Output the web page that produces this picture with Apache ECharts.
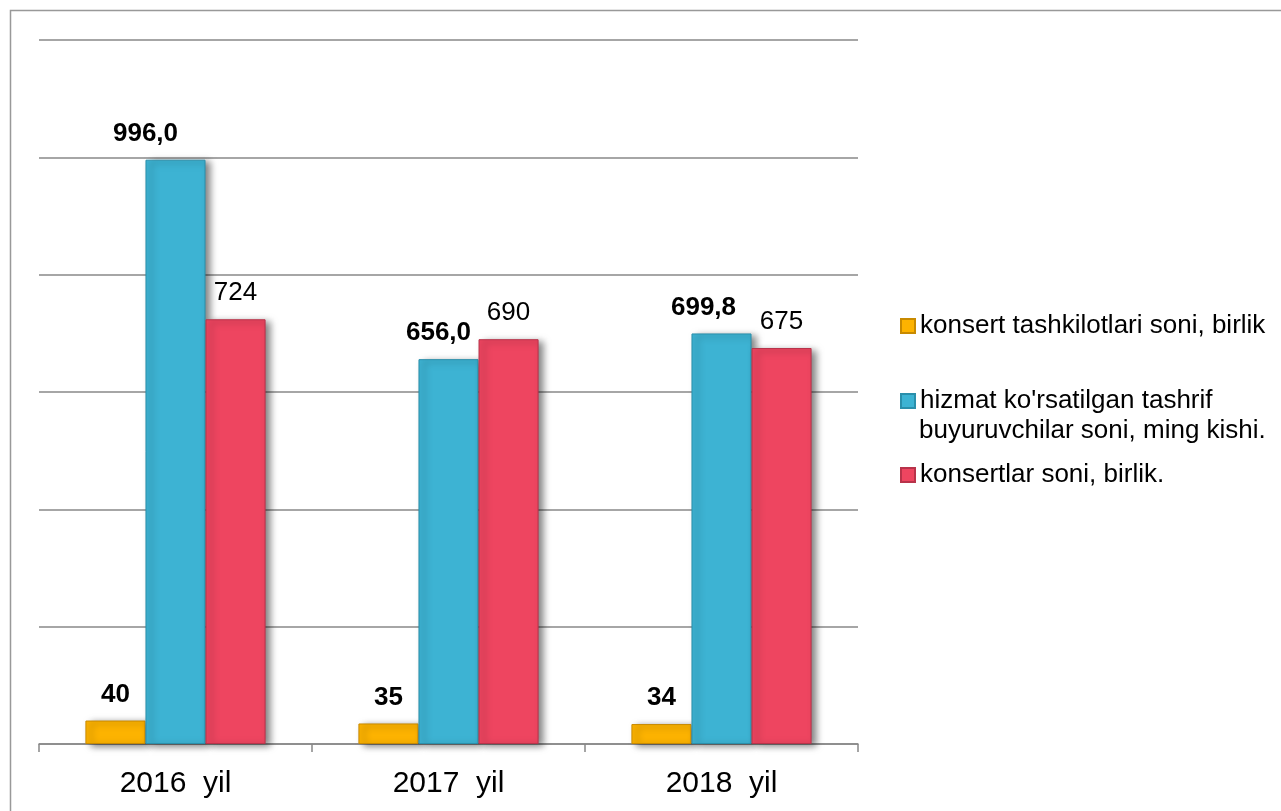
<!DOCTYPE html>
<html><head><meta charset="utf-8">
<script src="https://cdn.jsdelivr.net/npm/echarts@6/dist/echarts.min.js"></script>
<style>html,body{margin:0;padding:0;background:#fff}#c{width:1281px;height:811px}</style>
</head><body><div id="c"></div>
<script>
const categories = ['2016  yil', '2017  yil', '2018  yil'];
const seriesNames = ['konsert tashkilotlari soni, birlik', "hizmat ko'rsatilgan tashrif buyuruvchilar soni, ming kishi.", 'konsertlar soni, birlik.'];
const orgs = [40, 35, 34];
const visitors = [996.0, 656.0, 699.8];
const concerts = [724, 690, 675];

const chart = echarts.init(document.getElementById('c'));
const FONT = 'Liberation Sans';
// horizontal nudges of the blue value labels, as in the reference
const blueLabelShift = [-30, -10, -18];
function mkSeries(name, values, color, border, bold, fmt, shifts) {
  const data = values.map((v, i) => shifts ? { value: v, label: { offset: [shifts[i], 0] } } : v);
  return {
    name, type: 'bar', data, barGap: '0%', barCategoryGap: '34%',
    itemStyle: { color, borderColor: border, borderWidth: 1,
      shadowColor: 'rgba(0,0,0,0.5)', shadowBlur: 7, shadowOffsetX: 5, shadowOffsetY: 2 },
    label: { show: true, position: 'top', distance: 13, color: '#000', fontFamily: FONT,
      fontSize: 26, fontWeight: bold ? 'bold' : 'normal', formatter: fmt }
  };
}
const legendText = { fontFamily: FONT, fontSize: 26, color: '#000', lineHeight: 28 };
chart.setOption({
  animation: false,
  color: ['#FDB300', '#3DB3D3', '#EE4560'],
  graphic: [
    { type: 'rect', shape: { x: 10.5, y: 10.5, width: 1300, height: 900 }, style: { fill: 'none', stroke: '#999', lineWidth: 1.5 } },
    { type: 'text', left: 919, top: 418, style: { text: 'buyuruvchilar soni, ming kishi.', font: '26px "Liberation Sans"', fill: '#000' } }
  ],
  grid: { left: 39, right: 423, top: 40, bottom: 67 },
  legend: [
    { data: [seriesNames[0]], left: 895, top: 307, itemWidth: 14, itemHeight: 14, icon: 'rect', textStyle: legendText },
    { data: [seriesNames[1]], left: 895, top: 382, itemWidth: 14, itemHeight: 14, icon: 'rect',
      formatter: () => "hizmat ko'rsatilgan tashrif", textStyle: legendText },
    { data: [seriesNames[2]], left: 895, top: 456, itemWidth: 14, itemHeight: 14, icon: 'rect', textStyle: legendText }
  ],
  xAxis: {
    type: 'category', data: categories,
    axisLine: { lineStyle: { color: '#888', width: 1.5 } },
    axisTick: { show: true, length: 8, lineStyle: { color: '#888', width: 1.5 } },
    axisLabel: { color: '#000', fontFamily: FONT, fontSize: 30, margin: 25 }
  },
  yAxis: {
    type: 'value', min: 0, max: 1200, interval: 200,
    axisLabel: { show: false }, axisLine: { show: false }, axisTick: { show: false },
    splitLine: { lineStyle: { color: '#888', width: 1.5 } }
  },
  series: [
    mkSeries(seriesNames[0], orgs, '#FDB300', '#C88A00', true, p => String(p.value)),
    mkSeries(seriesNames[1], visitors, '#3DB3D3', '#2A8FAB', true, p => p.value.toFixed(1).replace('.', ','), blueLabelShift),
    mkSeries(seriesNames[2], concerts, '#EE4560', '#B8334A', false, p => String(p.value))
  ]
});
</script></body></html>
